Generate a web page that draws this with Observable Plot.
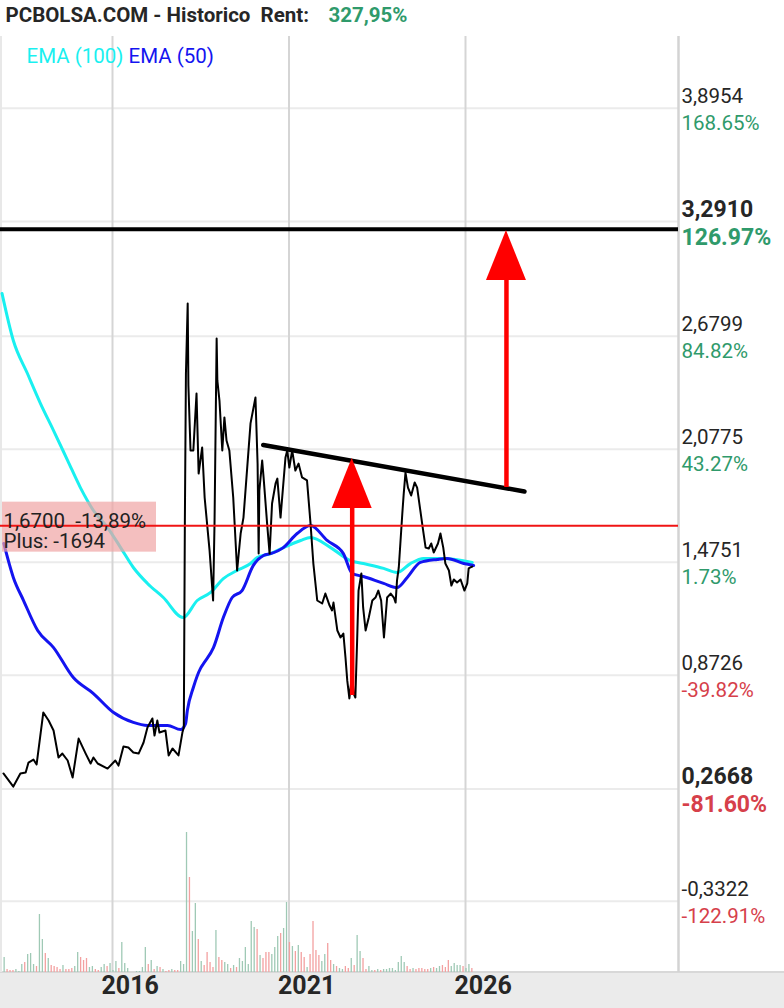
<!DOCTYPE html>
<html><head><meta charset="utf-8">
<script src="https://cdn.jsdelivr.net/npm/d3@7"></script>
<script src="https://cdn.jsdelivr.net/npm/@observablehq/plot@0.6"></script>
<style>
html,body{margin:0;padding:0;background:#fff;}
body{width:784px;height:1008px;overflow:hidden;}
</style></head><body>
<div id="chart"></div>
<script>
// ---------- data ----------
const titleText = "PCBOLSA.COM - Historico\u00a0\u00a0Rent:";
const rentText = "327,95%";
const legendNames = ["EMA (100)", "EMA (50)"];

const priceYears = [2012.91,2013.19,2013.39,2013.54,2013.62,2013.76,2013.85,2014.04,2014.19,2014.33,2014.47,2014.58,2014.73,2014.87,2015.04,2015.24,2015.38,2015.46,2015.58,2015.86,2016.08,2016.17,2016.31,2016.45,2016.59,2016.74,2016.88,2016.99,2017.13,2017.19,2017.27,2017.33,2017.50,2017.59,2017.70,2017.87,2017.98,2018.02,2018.05,2018.08,2018.13,2018.15,2018.21,2018.29,2018.38,2018.44,2018.54,2018.61,2018.75,2018.85,2018.89,2018.95,2018.97,2019.03,2019.11,2019.17,2019.23,2019.31,2019.42,2019.53,2019.63,2019.71,2019.91,2020.05,2020.11,2020.14,2020.16,2020.24,2020.28,2020.38,2020.45,2020.52,2020.62,2020.67,2020.76,2020.90,2020.95,2021.01,2021.09,2021.18,2021.27,2021.37,2021.51,2021.61,2021.69,2021.80,2021.94,2022.03,2022.15,2022.22,2022.26,2022.37,2022.46,2022.54,2022.60,2022.65,2022.71,2022.79,2022.83,2022.88,2022.93,2022.97,2023.05,2023.10,2023.17,2023.26,2023.36,2023.45,2023.53,2023.61,2023.69,2023.78,2023.88,2023.97,2024.02,2024.06,2024.11,2024.16,2024.21,2024.25,2024.30,2024.37,2024.46,2024.56,2024.63,2024.72,2024.80,2024.87,2024.96,2025.03,2025.10,2025.22,2025.29,2025.37,2025.43,2025.53,2025.60,2025.67,2025.76,2025.86,2025.97,2026.05,2026.09,2026.14,2026.19];
const priceValues = [0.349,0.279,0.349,0.354,0.407,0.423,0.397,0.674,0.631,0.578,0.434,0.455,0.418,0.327,0.535,0.455,0.402,0.434,0.402,0.375,0.418,0.391,0.493,0.487,0.461,0.455,0.514,0.594,0.642,0.551,0.631,0.567,0.578,0.445,0.482,0.445,0.567,0.594,1.697,2.481,2.854,2.417,2.071,2.071,2.374,1.948,2.087,1.820,1.537,1.271,1.681,2.668,2.444,2.337,2.071,2.247,2.124,2.071,1.820,1.431,1.628,1.713,2.215,2.353,2.001,1.521,1.857,2.017,1.927,1.681,1.521,1.788,1.895,1.921,1.713,2.033,2.071,1.980,2.071,1.964,2.001,1.927,1.911,1.681,1.468,1.271,1.255,1.308,1.244,1.218,1.260,1.111,1.074,1.095,0.967,0.845,0.749,0.882,0.775,0.754,1.058,1.324,1.415,1.234,1.111,1.180,1.271,1.287,1.324,1.271,1.074,1.287,1.308,1.287,1.260,1.378,1.447,1.591,1.735,1.841,1.953,1.873,1.831,1.900,1.873,1.751,1.644,1.553,1.548,1.575,1.527,1.575,1.628,1.553,1.468,1.431,1.351,1.383,1.367,1.383,1.324,1.362,1.442,1.447,1.452];

const ema100Years = [2012.87,2013.19,2013.59,2013.96,2014.33,2014.73,2015.09,2015.46,2015.86,2016.23,2016.59,2016.99,2017.44,2018.00,2018.40,2018.78,2019.14,2019.53,2019.91,2020.10,2020.48,2020.84,2021.33,2021.61,2022.18,2022.74,2023.11,2023.68,2024.06,2024.44,2024.81,2025.38,2026.19];
const ema100Values = [2.908,2.657,2.481,2.321,2.177,2.017,1.873,1.751,1.660,1.553,1.447,1.362,1.287,1.180,1.271,1.314,1.388,1.431,1.468,1.500,1.521,1.553,1.591,1.607,1.553,1.484,1.468,1.442,1.420,1.468,1.495,1.495,1.474];

const ema50Years = [2012.92,2013.19,2013.48,2013.88,2014.33,2014.89,2015.46,2016.03,2016.59,2016.99,2017.56,2017.93,2018.07,2018.12,2018.29,2018.49,2018.58,2018.86,2019.14,2019.39,2019.67,2019.99,2020.28,2020.48,2020.84,2021.23,2021.61,2022.08,2022.54,2022.79,2023.11,2023.68,2024.06,2024.35,2024.72,2025.20,2025.48,2025.95,2026.23];
const ema50Values = [1.575,1.394,1.271,1.111,1.020,0.860,0.775,0.674,0.621,0.605,0.605,0.583,0.615,0.685,0.807,0.908,0.935,1.020,1.180,1.287,1.324,1.458,1.511,1.521,1.553,1.628,1.671,1.591,1.521,1.415,1.399,1.362,1.340,1.394,1.474,1.490,1.495,1.468,1.458];

// monthly volume (relative units), first month Dec 2012
const volStartYear = 2012.93;
const volumes = [15,3,2,2,3,1,8,10,18,19, 8,6,58,33,19,14,7,6,5,3, 7,3,3,4,6,20,15,12,14,5, 6,3,2,5,8,6,9,2,11,4, 30,9,4,0,0,1,1,5,25,8, 12,3,6,5,3,1,2,3,2,2, 11,8,140,95,41,69,33,11,7,20, 10,5,42,15,12,10,8,4,7,5, 14,11,25,8,51,45,43,17,14,20, 20,18,25,36,39,44,70,30,26,21, 27,20,15,5,18,51,22,17,11,18, 29,12,8,6,4,3,6,4,14,7, 37,21,14,3,6,2,2,3,2,3, 3,4,4,2,10,16,10,6,3,4, 3,4,4,3,3,4,5,4,6,7, 5,12,6,9,7,7,6,4,8,4];
const volumeUp = [1,0,0,0,1,1,1,0,1,1, 1,0,1,1,0,1,0,0,0,0, 1,0,0,0,1,1,0,0,0,1, 1,0,0,1,1,0,1,1,1,0, 1,1,1,1,1,1,1,1,1,0, 1,0,1,0,1,0,0,1,0,0, 1,1,1,0,1,1,0,1,0,0, 0,0,1,0,0,1,1,0,1,0, 1,1,1,1,1,1,0,1,0,0, 0,1,1,1,0,1,1,0,1,0, 1,0,0,1,0,0,0,0,1,1, 0,0,1,0,1,1,0,0,1,0, 1,1,0,0,1,1,0,1,0,1, 1,1,1,1,1,1,1,0,0,1, 0,0,0,0,0,1,0,1,1,0, 0,0,1,1,1,1,0,1,1,0];

const yTicks = [3.8954, 3.2910, 2.6799, 2.0775, 1.4751, 0.8726, 0.2668, -0.3322];
const yTickLabels = ["3,8954","3,2910","2,6799","2,0775","1,4751","0,8726","0,2668","-0,3322"];
const yPctLabels = ["168.65%","126.97%","84.82%","43.27%","1.73%","-39.82%","-81.60%","-122.91%"];
const yTickBold = [0,1,0,0,0,0,1,0];
const xTicks = [2016, 2021, 2026];

const resistanceLevel = 3.25;
const markerLevel = 1.67;
const markerLabels = ["1,6700\u00a0\u00a0-13,89%", "Plus: -1694"];
const trendYears = [2020.27, 2027.67];
const trendValues = [2.100, 1.852];
const arrowYears = [2022.79, 2027.16];
const arrowFrom = [0.765, 1.873];
const arrowTo = [2.028, 3.243];

// ---------- layout ----------
const W = 784, H = 1008, mT = 36, mB = 36, mL = 0, mR = 106;
const xDomain = [2012.827, 2032.034];
const yDomain = [-0.7121, 4.2777];
const pxPerY = (H - mT - mB) / (yDomain[1] - yDomain[0]);
const pxPerX = (W - mL - mR) / (xDomain[1] - xDomain[0]);
const headLen = 50 / pxPerY, headHalf = 20 / pxPerX;

const GREEN = "#2f9a6b", RED = "#d6404a", DARK = "#262626";
const FONT = "Roboto, 'Noto Sans', sans-serif";

const price = priceYears.map((x, i) => ({x, y: priceValues[i]}));
const ema100 = ema100Years.map((x, i) => ({x, y: ema100Values[i]}));
const ema50 = ema50Years.map((x, i) => ({x, y: ema50Values[i]}));
const vol = volumes.map((v, i) => ({x: volStartYear + i / 12, v, up: volumeUp[i]}));
const ticks = yTicks.map((y, i) => ({y, label: yTickLabels[i], pct: yPctLabels[i], bold: yTickBold[i], neg: yPctLabels[i].startsWith("-")}));
const trend = trendYears.map((x, i) => ({x, y: trendValues[i]}));
const arrows = arrowYears.map((x, i) => ({x, from: arrowFrom[i], to: arrowTo[i], id: i}));
const heads = arrows.flatMap(a => [
  {id: a.id, x: a.x - headHalf, b: a.to - headLen, t: a.to - headLen},
  {id: a.id, x: a.x, b: a.to - headLen, t: a.to},
  {id: a.id, x: a.x + headHalf, b: a.to - headLen, t: a.to - headLen}
]);
const volBase = yDomain[0];

const tickText = (filterFn, key, fill, size, weight, dy) => Plot.text(ticks.filter(filterFn), {
  y: "y", text: key, frameAnchor: "right", textAnchor: "start", lineAnchor: "bottom",
  dx: 3, dy, fill, fontSize: size, fontWeight: weight, fontFamily: FONT
});

const chart = Plot.plot({
  width: W, height: H, marginTop: mT, marginBottom: mB, marginLeft: mL, marginRight: mR,
  x: {domain: xDomain, axis: null},
  y: {domain: yDomain, axis: null},
  style: {
    background: "linear-gradient(to bottom, #fff 0, #fff 971px, #d8d8d8 971px, #d8d8d8 973px, #ebebeb 973px)",
    fontFamily: FONT, overflow: "visible"
  },
  marks: [
    Plot.ruleY(yTicks, {stroke: "#ebebeb", strokeWidth: 2}),
    Plot.ruleX(xTicks, {stroke: "#d5d5d5", strokeWidth: 2}),
    Plot.ruleX([xDomain[0]], {stroke: "#e8e8e8", strokeWidth: 3}),
    Plot.ruleX(vol.filter(d => d.up), {x: "x", y1: volBase, y2: d => volBase + d.v / pxPerY, stroke: "#9fc9b5", strokeWidth: 1.3}),
    Plot.ruleX(vol.filter(d => !d.up), {x: "x", y1: volBase, y2: d => volBase + d.v / pxPerY, stroke: "#f3a0a0", strokeWidth: 1.3}),
    Plot.ruleX([xDomain[1]], {stroke: "#d3d3d3", strokeWidth: 2.5}),
    Plot.line(ema100, {x: "x", y: "y", stroke: "#19f0f0", strokeWidth: 3, curve: "monotone-x"}),
    Plot.line(ema50, {x: "x", y: "y", stroke: "#1414f0", strokeWidth: 3, curve: "monotone-x"}),
    Plot.line(price, {x: "x", y: "y", stroke: "#000", strokeWidth: 2}),
    Plot.rect([markerLevel], {x1: xDomain[0], x2: xDomain[0], y1: d => d, y2: d => d,
      insetLeft: 2, insetRight: -156, insetTop: -23.5, insetBottom: -26.5, fill: "rgb(240,164,164)", fillOpacity: 0.7}),
    Plot.ruleY([markerLevel], {stroke: "#f01414", strokeWidth: 2}),
    Plot.text([markerLabels[0]], {frameAnchor: "left", y: () => markerLevel, text: d => d, textAnchor: "start", lineAnchor: "bottom", dx: 3, dy: 2, fontSize: 20.5, fill: "#222", fontFamily: FONT}),
    Plot.text([markerLabels[1]], {frameAnchor: "left", y: () => markerLevel, text: d => d, textAnchor: "start", lineAnchor: "bottom", dx: 3, dy: 22, fontSize: 20.5, fill: "#222", fontFamily: FONT}),
    Plot.ruleY([resistanceLevel], {stroke: "#000", strokeWidth: 4}),
    Plot.line(trend, {x: "x", y: "y", stroke: "#000", strokeWidth: 4.5}),
    Plot.ruleX(arrows, {x: "x", y1: "from", y2: d => d.to - headLen + 0.02, stroke: "#ff0000", strokeWidth: 4.5}),
    Plot.areaY(heads, {x: "x", y1: "b", y2: "t", z: "id", fill: "#ff0000", curve: "linear"}),
    // right axis labels
    tickText(d => !d.bold, "label", DARK, 20.5, "normal", -5.5),
    tickText(d => d.bold, "label", DARK, 23, "bold", -5),
    tickText(d => !d.bold && !d.neg, "pct", GREEN, 20.5, "normal", 21.5),
    tickText(d => !d.bold && d.neg, "pct", RED, 20.5, "normal", 21.5),
    tickText(d => d.bold && !d.neg, "pct", GREEN, 23, "bold", 23),
    tickText(d => d.bold && d.neg, "pct", RED, 23, "bold", 23),
    // x labels, centred on mid-year
    Plot.text(xTicks, {x: d => d + 0.5, text: d => String(d), frameAnchor: "bottom", lineAnchor: "bottom", dy: 21, fontSize: 25, fontWeight: "bold", fill: DARK, fontFamily: FONT}),
    // title & legend
    Plot.text([titleText], {frameAnchor: "top-left", text: d => d, textAnchor: "start", lineAnchor: "bottom", dx: 5, dy: -15, fontSize: 20.5, fontWeight: "bold", fill: DARK, fontFamily: FONT}),
    Plot.text([rentText], {frameAnchor: "top-left", text: d => d, textAnchor: "start", lineAnchor: "bottom", dx: 328, dy: -15, fontSize: 20.5, fontWeight: "bold", fill: GREEN, fontFamily: FONT}),
    Plot.text([legendNames[0]], {frameAnchor: "top-left", text: d => d, textAnchor: "start", lineAnchor: "bottom", dx: 26, dy: 26, fontSize: 20.5, fill: "#19f0f0", fontFamily: FONT}),
    Plot.text([legendNames[1]], {frameAnchor: "top-left", text: d => d, textAnchor: "start", lineAnchor: "bottom", dx: 128, dy: 26, fontSize: 20.5, fill: "#1414f0", fontFamily: FONT})
  ]
});
document.getElementById("chart").append(chart);
</script>
</body></html>
